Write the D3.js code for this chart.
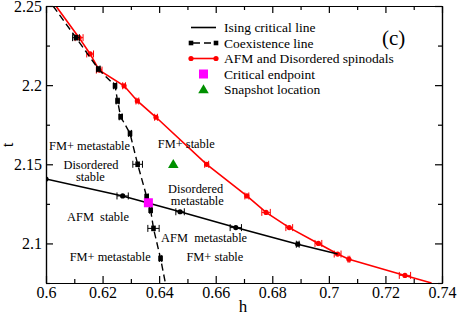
<!DOCTYPE html>
<html>
<head>
<meta charset="utf-8">
<script src="https://cdn.jsdelivr.net/npm/d3@7"></script>
<style>
  body { margin: 0; background: #fff; }
  svg { display: block; font-family: "Liberation Serif", "Times New Roman", serif; }
  svg text { font-family: "Liberation Serif", "Times New Roman", serif; }
</style>
</head>
<body>
<div id="chart"></div>
<script>
// tick values and labels
const xTicks = [0.6, 0.62, 0.64, 0.66, 0.68, 0.7, 0.72, 0.74];
const xTickLabels = ["0.6", "0.62", "0.64", "0.66", "0.68", "0.7", "0.72", "0.74"];
const xMinor = [0.61, 0.63, 0.65, 0.67, 0.69, 0.71, 0.73];
const yTicks = [2.1, 2.15, 2.2, 2.25];
const yTickLabels = ["2.1", "2.15", "2.2", "2.25"];
const yMinor = [2.075, 2.125, 2.175, 2.225];

// Ising critical line (h, t, error in h)
const isingH = [0.6, 0.6271, 0.6474, 0.6671, 0.689];
const isingT = [2.1407, 2.130, 2.120, 2.110, 2.0995];
const isingErr = [0, 0.002, 0.0015, 0.002, 0.0005];
const isingEnd = [0.7031, 2.0933];

// Coexistence line
const coexH = [0.6106, 0.6185, 0.6244, 0.6253, 0.6264, 0.6297, 0.6324, 0.6356, 0.637, 0.638, 0.6405];
const coexT = [2.230, 2.2102, 2.1996, 2.190, 2.180, 2.1695, 2.150, 2.1295, 2.121, 2.1095, 2.0905];
const coexErr = [0.0012, 0.0006, 0.0005, 0.0005, 0.0005, 0.0005, 0.0017, 0.0005, 0.0004, 0.002, 0.0004];
const coexTop = [0.6025, 2.25];
const coexBottom = [0.6422, 2.075];

// AFM and Disordered spinodals
const spinH = [0.6117, 0.6156, 0.6188, 0.6276, 0.6323, 0.6389, 0.6568, 0.671, 0.6778, 0.686, 0.6963, 0.7031, 0.7071, 0.7269];
const spinT = [2.230, 2.2197, 2.2095, 2.1996, 2.190, 2.1797, 2.150, 2.130, 2.1196, 2.110, 2.100, 2.0933, 2.090, 2.0798];
const spinErr = [0.0014, 0.0012, 0.001, 0.0005, 0.0005, 0.0005, 0.0007, 0.0007, 0.0015, 0.0012, 0.0012, 0.0012, 0.0003, 0.002];
const spinTop = [0.6035, 2.25];
const spinBottom = [0.7363, 2.075];

// special points
const criticalEndpoint = [0.6362, 2.1257];
const snapshot = [0.645, 2.150];

// region labels (centre h, baseline t)
const regionLabels = [
  { text: "FM+ metastable", h: 0.6154, t: 2.1590 },
  { text: "Disordered", h: 0.6159, t: 2.1473 },
  { text: "stable", h: 0.6157, t: 2.1395 },
  { text: "AFM  stable", h: 0.6184, t: 2.1142 },
  { text: "FM+ metastable", h: 0.6227, t: 2.0892 },
  { text: "FM+ stable", h: 0.6496, t: 2.1603 },
  { text: "Disordered", h: 0.6529, t: 2.1318 },
  { text: "metastable", h: 0.6535, t: 2.1240 },
  { text: "AFM  metastable", h: 0.6559, t: 2.1006 },
  { text: "FM+ stable", h: 0.6597, t: 2.0886 }
];

const legendItems = ["Ising critical line", "Coexistence line", "AFM and Disordered spinodals", "Critical endpoint", "Snapshot location"];

const W = 457, H = 315;
const svg = d3.select('#chart').append('svg').attr('width', W).attr('height', H);

const x = d3.scaleLinear().domain([0.6, 0.74]).range([46, 442]);
const y = d3.scaleLinear().domain([2.075, 2.25]).range([283, 6]);

svg.append('defs').append('clipPath').attr('id', 'clip')
  .append('rect').attr('x', 46).attr('y', 6).attr('width', 396).attr('height', 277);

const plot = svg.append('g').attr('clip-path', 'url(#clip)');

function pts(hs, ts) { return hs.map((h, i) => [h, ts[i]]); }
const line = d3.line().x(d => x(d[0])).y(d => y(d[1]));

function errorBars(g, hs, ts, es, color) {
  hs.forEach((h, i) => {
    if (!es[i]) return;
    const yy = y(ts[i]), x0 = x(h - es[i]), x1 = x(h + es[i]);
    g.append('line').attr('x1', x0).attr('x2', x1).attr('y1', yy).attr('y2', yy)
      .attr('stroke', color).attr('stroke-width', 1);
    [x0, x1].forEach(xx => g.append('line').attr('x1', xx).attr('x2', xx)
      .attr('y1', yy - 3.5).attr('y2', yy + 3.5).attr('stroke', color).attr('stroke-width', 1));
  });
}

// red spinodal line
const spinPts = [spinTop].concat(pts(spinH, spinT), [spinBottom]);
plot.append('path').attr('d', line(spinPts)).attr('fill', 'none')
  .attr('stroke', '#ff0000').attr('stroke-width', 1.6);
errorBars(plot, spinH, spinT, spinErr, '#ff0000');
plot.selectAll('.spin').data(pts(spinH, spinT)).enter().append('circle')
  .attr('cx', d => x(d[0])).attr('cy', d => y(d[1])).attr('r', 2.6).attr('fill', '#ff0000');

// Ising line
const isingPts = pts(isingH, isingT).concat([isingEnd]);
plot.append('path').attr('d', line(isingPts)).attr('fill', 'none')
  .attr('stroke', '#000').attr('stroke-width', 1.6);
errorBars(plot, isingH, isingT, isingErr, '#000');
plot.selectAll('.ising').data(pts(isingH, isingT)).enter().append('circle')
  .attr('cx', d => x(d[0])).attr('cy', d => y(d[1])).attr('r', 2.6).attr('fill', '#000');

// coexistence line
const coexPts = [coexTop].concat(pts(coexH, coexT), [coexBottom]);
plot.append('path').attr('d', line(coexPts)).attr('fill', 'none')
  .attr('stroke', '#000').attr('stroke-width', 1.4).attr('stroke-dasharray', '7,4');
errorBars(plot, coexH, coexT, coexErr, '#000');
plot.selectAll('.coex').data(pts(coexH, coexT)).enter().append('rect')
  .attr('x', d => x(d[0]) - 2.3).attr('y', d => y(d[1]) - 2.8).attr('width', 4.6).attr('height', 5.6).attr('fill', '#000');

// critical endpoint and snapshot
plot.append('rect').attr('x', x(criticalEndpoint[0]) - 4.5).attr('y', y(criticalEndpoint[1]) - 4.5)
  .attr('width', 9).attr('height', 9).attr('fill', '#ff00ff');
plot.append('path').attr('d', d3.symbol(d3.symbolTriangle, 48)())
  .attr('transform', `translate(${x(snapshot[0])},${y(snapshot[1]) + 0.8})`).attr('fill', '#009000');

// region labels
svg.selectAll('.region').data(regionLabels).enter().append('text')
  .attr('x', d => x(d.h)).attr('y', d => y(d.t)).attr('text-anchor', 'middle')
  .attr('font-size', 12.4).attr('fill', '#000').style('white-space', 'pre').text(d => d.text);

// axes
const axG = svg.append('g');
function styleAxis(g) {
  g.attr('font-family', null);
  g.select('.domain').attr('stroke', '#000').attr('stroke-width', 1.2);
  g.selectAll('.tick line').attr('stroke', '#000').attr('stroke-width', 1.2);
  g.selectAll('.tick text').attr('font-size', 16).attr('fill', '#000')
    .style('font-family', '"Liberation Serif", "Times New Roman", serif');
}
const xb = axG.append('g').attr('transform', 'translate(0,283)')
  .call(d3.axisBottom(x).tickValues(xTicks).tickSizeInner(-7).tickSizeOuter(0).tickPadding(4)
    .tickFormat((d, i) => xTickLabels[i]));
styleAxis(xb);
axG.append('g').attr('transform', 'translate(0,283)')
  .call(d3.axisBottom(x).tickValues(xMinor).tickSizeInner(-4).tickSizeOuter(0).tickFormat('')).call(styleAxis);
const yl = axG.append('g').attr('transform', 'translate(46,0)')
  .call(d3.axisLeft(y).tickValues(yTicks).tickSizeInner(-7).tickSizeOuter(0).tickPadding(4)
    .tickFormat((d, i) => yTickLabels[i]));
styleAxis(yl);
axG.append('g').attr('transform', 'translate(46,0)')
  .call(d3.axisLeft(y).tickValues(yMinor).tickSizeInner(-4).tickSizeOuter(0).tickFormat('')).call(styleAxis);
axG.append('g').attr('transform', 'translate(0,6)')
  .call(d3.axisTop(x).tickValues(xTicks).tickSizeInner(-7).tickSizeOuter(0).tickFormat('')).call(styleAxis);
axG.append('g').attr('transform', 'translate(0,6)')
  .call(d3.axisTop(x).tickValues(xMinor).tickSizeInner(-4).tickSizeOuter(0).tickFormat('')).call(styleAxis);
axG.append('g').attr('transform', 'translate(442,0)')
  .call(d3.axisRight(y).tickValues(yTicks).tickSizeInner(-7).tickSizeOuter(0).tickFormat('')).call(styleAxis);
axG.append('g').attr('transform', 'translate(442,0)')
  .call(d3.axisRight(y).tickValues(yMinor).tickSizeInner(-4).tickSizeOuter(0).tickFormat('')).call(styleAxis);

// axis titles
svg.append('text').attr('x', 243).attr('y', 312).attr('text-anchor', 'middle')
  .attr('font-size', 17).text('h');
svg.append('text').attr('transform', 'translate(13,145) rotate(-90)').attr('text-anchor', 'middle')
  .attr('font-size', 17).text('t');

// panel label
svg.append('text').attr('x', 382).attr('y', 45).attr('font-size', 21).text('(c)');

// legend
const lg = svg.append('g');
const lx0 = 191, lx1 = 216, ly0 = 27.5, ldy = 15.5;
legendItems.forEach((t, i) => {
  lg.append('text').attr('x', 224).attr('y', ly0 + i * ldy + 4.5).attr('font-size', 13.5).text(t);
});
lg.append('line').attr('x1', lx0).attr('x2', lx1).attr('y1', ly0).attr('y2', ly0)
  .attr('stroke', '#000').attr('stroke-width', 1.6);
const ly1 = ly0 + ldy;
lg.append('line').attr('x1', lx0).attr('x2', lx1).attr('y1', ly1).attr('y2', ly1)
  .attr('stroke', '#000').attr('stroke-width', 1.4).attr('stroke-dasharray', '7,4').attr('stroke-dashoffset', -2);
[lx0, lx1].forEach(xx => lg.append('rect').attr('x', xx - 2.3).attr('y', ly1 - 2.3)
  .attr('width', 4.6).attr('height', 4.6).attr('fill', '#000'));
const ly2 = ly0 + 2 * ldy;
lg.append('line').attr('x1', lx0).attr('x2', lx1).attr('y1', ly2).attr('y2', ly2)
  .attr('stroke', '#ff0000').attr('stroke-width', 1.6);
[lx0, lx1].forEach(xx => lg.append('circle').attr('cx', xx).attr('cy', ly2).attr('r', 2.6).attr('fill', '#ff0000'));
const ly3 = ly0 + 3 * ldy;
lg.append('rect').attr('x', 203.5 - 4.5).attr('y', ly3 - 4.5).attr('width', 9).attr('height', 9).attr('fill', '#ff00ff');
const ly4 = ly0 + 4 * ldy;
lg.append('path').attr('d', d3.symbol(d3.symbolTriangle, 48)())
  .attr('transform', `translate(203.5,${ly4 + 0.8})`).attr('fill', '#009000');
</script>
</body>
</html>
